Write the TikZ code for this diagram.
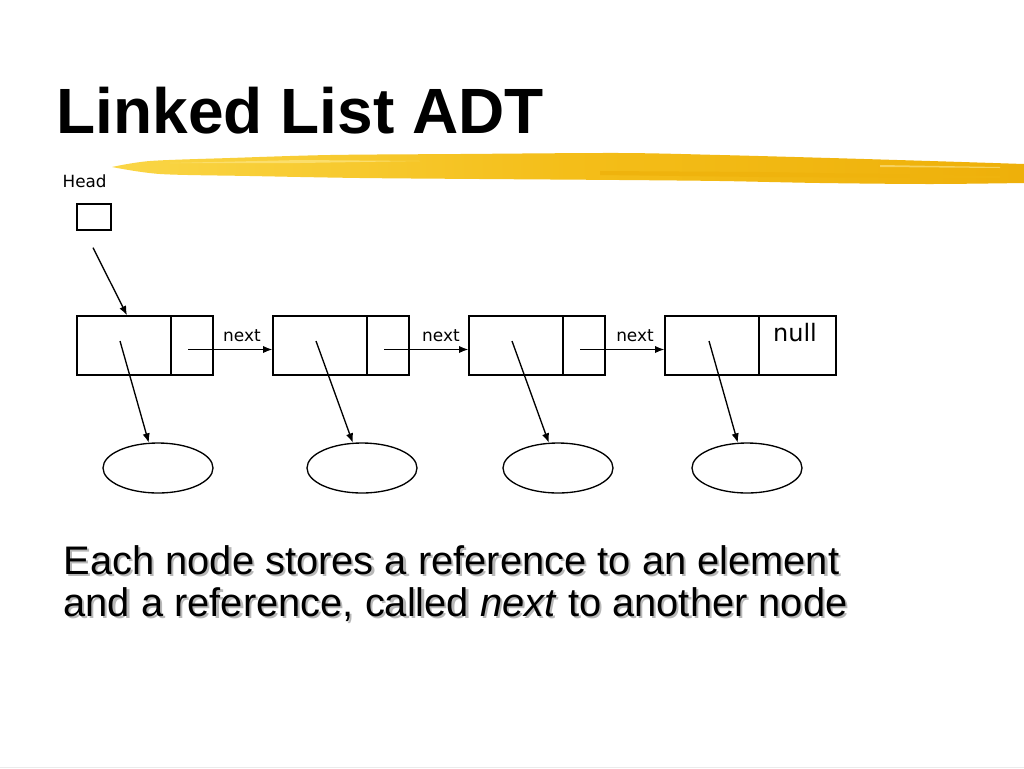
\documentclass[tikz,border=0pt]{standalone}
\usepackage{fontspec}
\setmainfont{Liberation Sans}
\newfontfamily\smallfont{DejaVu Sans}
\usetikzlibrary{arrows.meta,shapes.geometric,calc}
\definecolor{brushA}{RGB}{250,214,70}
\definecolor{brushB}{RGB}{244,190,25}
\definecolor{brushC}{RGB}{238,176,10}
\newcommand{\shadowed}[1]{\makebox[0pt][l]{\hspace{1.6pt}\raisebox{-1.6pt}{\textcolor{black!28}{#1}}}#1}
\begin{document}
\begin{tikzpicture}[x=0.75pt,y=-0.75pt,line width=1pt,
  cell/.style={draw,rectangle,inner sep=0pt,minimum height=44.25pt},
  elem/.style={draw,ellipse,inner sep=0pt,minimum width=82.5pt,minimum height=37.5pt},
  arr/.style={-{Latex[length=7pt,width=5.5pt]}},
  lbl/.style={font=\smallfont\fontsize{12.7pt}{14pt}\selectfont,inner sep=0pt,anchor=base},
  body/.style={font=\fontsize{29.9pt}{34pt}\selectfont,inner sep=0pt,anchor=base west}]
\useasboundingbox (0,0) rectangle (1024,768);
\fill[white] (0,0) rectangle (1024,768);
% brush stroke
\shade[left color=brushA,right color=brushC,middle color=brushB]
  plot[smooth] coordinates {(112,167) (150,161) (230,158) (330,155) (460,154) (620,153) (720,155) (830,158) (930,161) (1024,164)}
  -- (1024,183)
  -- plot[smooth] coordinates {(1024,183) (930,184) (820,183) (720,181) (620,180) (480,179) (360,178) (250,176) (160,174) (112,167)} -- cycle;
\fill[brushA!80!white] (170,163) -- (300,160) -- (420,161) -- (300,163) -- cycle;
\fill[brushC!80!brushB] (600,171) -- (760,172) -- (1000,176) -- (1000,178) -- (760,177) -- (600,175) -- cycle;
\fill[brushB!70!white] (880,165) -- (1000,167) -- (1000,168) -- (880,167) -- cycle;
% title
\node[font=\bfseries\fontsize{48pt}{56pt}\selectfont,inner sep=0pt,anchor=base west] (title) at (56,133) {Linked List ADT};
% head
\node[font=\smallfont\fontsize{12.6pt}{14pt}\selectfont,inner sep=0pt,anchor=base west] (headlbl) at (62,187) {Head};
\node[cell,minimum width=25.5pt,minimum height=19.5pt] (head) at (94,217) {};
% list nodes
\node[cell,minimum width=70.5pt] (n1d) at (124,345.5) {};
\node[cell,minimum width=31.5pt] (n1p) at (192,345.5) {};
\node[cell,minimum width=70.5pt] (n2d) at (320,345.5) {};
\node[cell,minimum width=31.5pt] (n2p) at (388,345.5) {};
\node[cell,minimum width=70.5pt] (n3d) at (516,345.5) {};
\node[cell,minimum width=31.5pt] (n3p) at (584,345.5) {};
\node[cell,minimum width=70.5pt] (n4d) at (712,345.5) {};
\node[cell,minimum width=57.75pt] (n4p) at (797.5,345.5) {};
\node[font=\smallfont\fontsize{18pt}{20pt}\selectfont,inner sep=0pt,anchor=base] (null) at (795,341) {null};
% elements
\node[elem] (e1) at (158,468) {};
\node[elem] (e2) at (362,468) {};
\node[elem] (e3) at (558,468) {};
\node[elem] (e4) at (747,468) {};
% head arrow
\coordinate (hs) at ($(head.south)+(-1,17)$);
\draw[arr] (hs) -- ($(n1d.north)+(3,0)$);
% next arrows
\coordinate (p1) at ($(n1p.center)+(-4,4)$);
\coordinate (p2) at ($(n2p.center)+(-4,4)$);
\coordinate (p3) at ($(n3p.center)+(-4,4)$);
\draw[arr] (p1) -- (p1 -| n2d.west);
\draw[arr] (p2) -- (p2 -| n3d.west);
\draw[arr] (p3) -- (p3 -| n4d.west);
\node[lbl] (l1) at (242,341) {next};
\node[lbl] (l2) at (441,341) {next};
\node[lbl] (l3) at (635,341) {next};
% element arrows
\coordinate (d1) at ($(n1d.center)+(-4,-4.5)$);
\coordinate (d2) at ($(n2d.center)+(-4,-4.5)$);
\coordinate (d3) at ($(n3d.center)+(-4,-4.5)$);
\coordinate (d4) at ($(n4d.center)+(-3,-4.5)$);
\draw[arr] (d1) -- (e1.110);
\draw[arr] (d2) -- (e2.110);
\draw[arr] (d3) -- (e3.110);
\draw[arr] (d4) -- (e4.110);
% body text with shadow
\node[body] (t1) at (63,574) {\shadowed{Each node stores a reference to an element}};
\node[body] (t2) at (63,616) {\shadowed{and a reference, called \textit{next} to another node}};
% bottom faint line
\draw[black!8,line width=0.75pt] (0,767) -- (1024,767);
\end{tikzpicture}
\end{document}
